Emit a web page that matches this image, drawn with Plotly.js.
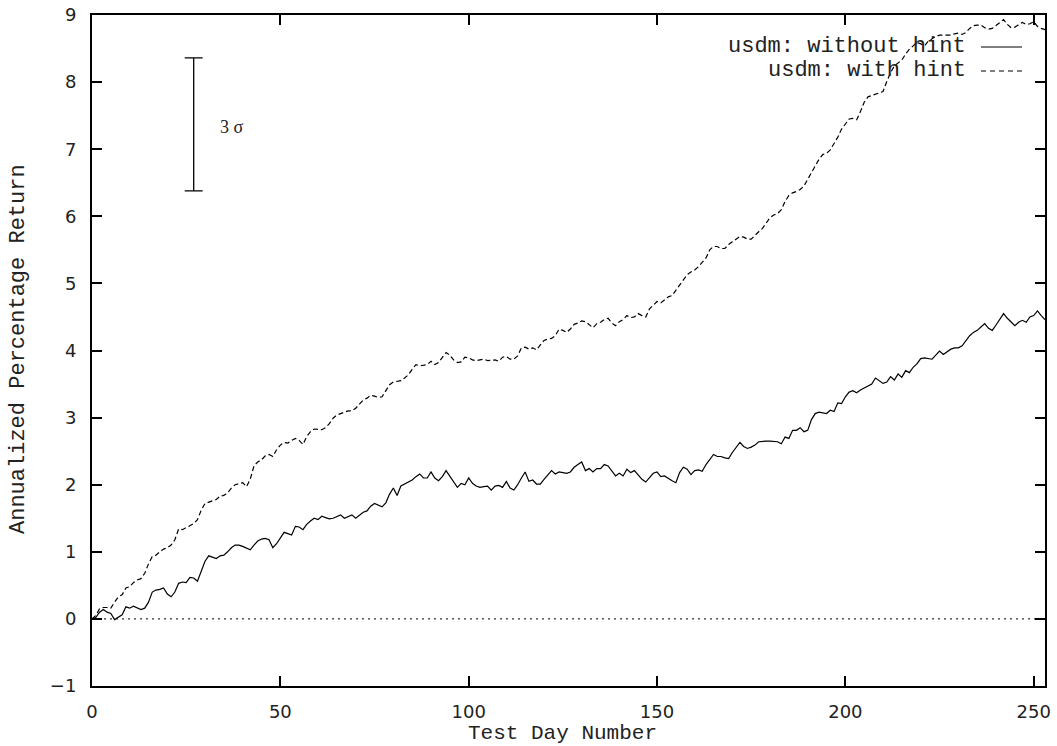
<!DOCTYPE html>
<html>
<head>
<meta charset="utf-8">
<script src="https://cdn.plot.ly/plotly-3.0.1.min.js"></script>
<style>html,body{margin:0;padding:0;background:#fff;}#chart{width:1057px;height:746px;}</style>
</head>
<body>
<div id="chart"></div>
<script>
// Test day numbers
const days = [];
for (let d = 0; d <= 253; d++) days.push(d);

// usdm: without hint (solid)
const withoutHint = [
0.00,0.02,0.10,0.14,0.10,0.08,-0.01,0.02,0.06,0.18,
0.16,0.19,0.16,0.14,0.16,0.25,0.40,0.43,0.44,0.46,
0.37,0.33,0.40,0.53,0.55,0.54,0.62,0.61,0.56,0.72,
0.86,0.94,0.92,0.90,0.94,0.95,1.00,1.06,1.10,1.10,
1.08,1.05,1.03,1.10,1.16,1.19,1.20,1.18,1.06,1.12,
1.20,1.29,1.27,1.25,1.38,1.37,1.33,1.41,1.46,1.50,
1.48,1.53,1.51,1.49,1.50,1.53,1.55,1.50,1.53,1.55,
1.50,1.55,1.59,1.61,1.68,1.72,1.70,1.67,1.73,1.86,
1.95,1.84,1.98,2.01,2.05,2.07,2.12,2.16,2.10,2.10,
2.19,2.10,2.06,2.12,2.21,2.12,2.04,1.96,2.02,2.00,
2.10,2.02,1.98,1.96,1.97,1.98,1.92,1.98,1.99,1.96,
2.05,1.95,1.92,2.00,2.10,2.19,2.05,2.07,2.01,2.01,
2.08,2.14,2.21,2.16,2.19,2.18,2.17,2.19,2.26,2.30,
2.34,2.21,2.24,2.19,2.24,2.24,2.30,2.28,2.20,2.13,
2.17,2.13,2.23,2.18,2.21,2.15,2.08,2.04,2.10,2.17,
2.19,2.12,2.13,2.09,2.06,2.03,2.18,2.26,2.23,2.15,
2.21,2.22,2.20,2.30,2.38,2.45,2.42,2.42,2.40,2.39,
2.48,2.56,2.63,2.57,2.54,2.56,2.59,2.64,2.65,2.65,
2.65,2.65,2.64,2.61,2.71,2.69,2.81,2.81,2.85,2.79,
2.81,2.97,3.06,3.08,3.07,3.06,3.11,3.09,3.22,3.21,
3.31,3.38,3.40,3.37,3.41,3.44,3.47,3.50,3.59,3.55,
3.51,3.53,3.61,3.56,3.65,3.60,3.70,3.67,3.75,3.80,
3.88,3.89,3.88,3.87,3.93,3.99,3.94,3.98,4.02,4.04,
4.04,4.07,4.14,4.22,4.27,4.30,4.35,4.40,4.33,4.30,
4.38,4.46,4.55,4.48,4.42,4.37,4.42,4.45,4.42,4.50,
4.52,4.59,4.52,4.46
];

// usdm: with hint (dashed)
const withHint = [
0.00,0.05,0.15,0.17,0.17,0.16,0.25,0.33,0.36,0.46,
0.48,0.54,0.58,0.60,0.68,0.82,0.93,0.95,1.00,1.04,
1.06,1.10,1.18,1.34,1.33,1.36,1.40,1.42,1.48,1.62,
1.72,1.74,1.75,1.78,1.83,1.84,1.88,1.95,2.00,2.02,
2.03,1.97,2.08,2.28,2.34,2.37,2.43,2.45,2.42,2.52,
2.59,2.63,2.62,2.66,2.69,2.66,2.60,2.72,2.79,2.83,
2.82,2.82,2.85,2.91,2.99,3.04,3.06,3.08,3.10,3.10,
3.14,3.20,3.26,3.29,3.33,3.32,3.30,3.31,3.40,3.49,
3.53,3.54,3.55,3.59,3.64,3.72,3.79,3.77,3.78,3.79,
3.84,3.79,3.82,3.90,3.97,3.93,3.86,3.82,3.83,3.90,
3.89,3.86,3.85,3.86,3.87,3.85,3.86,3.86,3.84,3.90,
3.91,3.87,3.87,3.92,4.04,4.05,4.02,4.04,4.01,4.08,
4.15,4.17,4.18,4.22,4.32,4.30,4.27,4.32,4.39,4.41,
4.44,4.43,4.38,4.34,4.40,4.42,4.46,4.48,4.41,4.37,
4.43,4.46,4.52,4.49,4.50,4.55,4.52,4.50,4.62,4.68,
4.73,4.71,4.75,4.80,4.82,4.90,4.98,5.06,5.13,5.17,
5.20,5.25,5.31,5.38,5.50,5.55,5.55,5.52,5.52,5.58,
5.62,5.66,5.70,5.69,5.66,5.66,5.72,5.77,5.82,5.90,
5.98,6.02,6.04,6.10,6.22,6.31,6.35,6.37,6.40,6.45,
6.55,6.64,6.74,6.85,6.92,6.94,6.99,7.08,7.18,7.30,
7.37,7.45,7.46,7.44,7.56,7.70,7.78,7.80,7.81,7.83,
7.86,8.01,8.14,8.24,8.29,8.33,8.42,8.49,8.54,8.59,
8.57,8.54,8.61,8.65,8.68,8.70,8.70,8.71,8.70,8.72,
8.73,8.71,8.74,8.80,8.84,8.85,8.85,8.81,8.79,8.80,
8.84,8.89,8.93,8.86,8.81,8.82,8.86,8.89,8.86,8.87,
8.90,8.83,8.80,8.78
];

// 3 sigma error bar marker
const sigmaX = [27];
const sigmaY = [7.37];
const sigmaErr = [0.99];

const seriesNames = ['usdm: without hint', 'usdm: with hint'];
const xTicks = [0, 50, 100, 150, 200, 250];
const yTicks = [-1, 0, 1, 2, 3, 4, 5, 6, 7, 8, 9];

const mono = 'Liberation Mono, Courier New, monospace';
const tickFont = {family: 'DejaVu Sans, sans-serif', size: 18, color: '#222'};

const traces = [
  {x: days, y: withoutHint, type: 'scatter', mode: 'lines', name: seriesNames[0],
   line: {color: '#000', width: 1.2}},
  {x: days, y: withHint, type: 'scatter', mode: 'lines', name: seriesNames[1],
   line: {color: '#000', width: 1.2, dash: '5px,3px'}},
  {x: sigmaX, y: sigmaY, type: 'scatter', mode: 'markers', marker: {size: 0.1, color: 'rgba(0,0,0,0)'},
   error_y: {type: 'data', array: sigmaErr, visible: true, color: '#000', thickness: 1.3, width: 9},
   hoverinfo: 'skip'}
];

const layout = {
  width: 1057, height: 746,
  margin: {l: 92, r: 12, t: 15, b: 60},
  paper_bgcolor: '#fff', plot_bgcolor: '#fff',
  showlegend: false,
  xaxis: {
    range: [0, 253], tickvals: xTicks, ticktext: xTicks.map(String),
    ticks: 'inside', ticklen: 10, tickwidth: 2, tickcolor: '#000',
    showline: true, linewidth: 2, linecolor: '#000', mirror: 'ticks',
    showgrid: false, zeroline: false, tickfont: tickFont, ticklabelstandoff: 8
  },
  yaxis: {
    range: [-1, 9], tickvals: yTicks, ticktext: yTicks.map(v => v < 0 ? '\u2212' + Math.abs(v) : String(v)),
    ticks: 'inside', ticklen: 10, tickwidth: 2, tickcolor: '#000',
    showline: true, linewidth: 2, linecolor: '#000', mirror: 'ticks',
    showgrid: false, zeroline: false, tickfont: tickFont, ticklabelstandoff: 10
  },
  shapes: [
    {type: 'line', xref: 'paper', x0: 0, x1: 1, yref: 'y', y0: 0, y1: 0,
     line: {color: '#000', width: 1, dash: '2px,4px'}, layer: 'below'},
    {type: 'line', xref: 'paper', x0: (981 - 92) / 953, x1: (1022 - 92) / 953,
     yref: 'paper', y0: (686 - 47) / 671, y1: (686 - 47) / 671,
     line: {color: '#000', width: 1.2}},
    {type: 'line', xref: 'paper', x0: (981 - 92) / 953, x1: (1022 - 92) / 953,
     yref: 'paper', y0: (686 - 71) / 671, y1: (686 - 71) / 671,
     line: {color: '#000', width: 1.2, dash: '5px,4px'}}
  ],
  annotations: [
    {text: 'Test Day Number', xref: 'paper', yref: 'paper', x: (562 - 92) / 953, y: (686 - 733) / 671,
     xanchor: 'center', yanchor: 'middle', showarrow: false, font: {family: mono, size: 21, color: '#222'}},
    {text: 'Annualized Percentage Return', xref: 'paper', yref: 'paper', x: (18 - 92) / 953, y: (686 - 349) / 671,
     xanchor: 'center', yanchor: 'middle', textangle: -90, showarrow: false, font: {family: mono, size: 22, color: '#222'}},
    {text: seriesNames[0], xref: 'paper', yref: 'paper', x: (968 - 92) / 953, y: (686 - 47) / 671,
     xanchor: 'right', yanchor: 'middle', showarrow: false, font: {family: mono, size: 22, color: '#222'}},
    {text: seriesNames[1], xref: 'paper', yref: 'paper', x: (968 - 92) / 953, y: (686 - 71) / 671,
     xanchor: 'right', yanchor: 'middle', showarrow: false, font: {family: mono, size: 22, color: '#222'}},
    {text: '3 \u03c3', xref: 'x', yref: 'y', x: 33.4, y: 7.33,
     xanchor: 'left', yanchor: 'middle', showarrow: false, font: {family: 'Liberation Serif, Times New Roman, serif', size: 18, color: '#222'}}
  ]
};

Plotly.newPlot('chart', traces, layout, {displayModeBar: false, staticPlot: true});
</script>
</body>
</html>
